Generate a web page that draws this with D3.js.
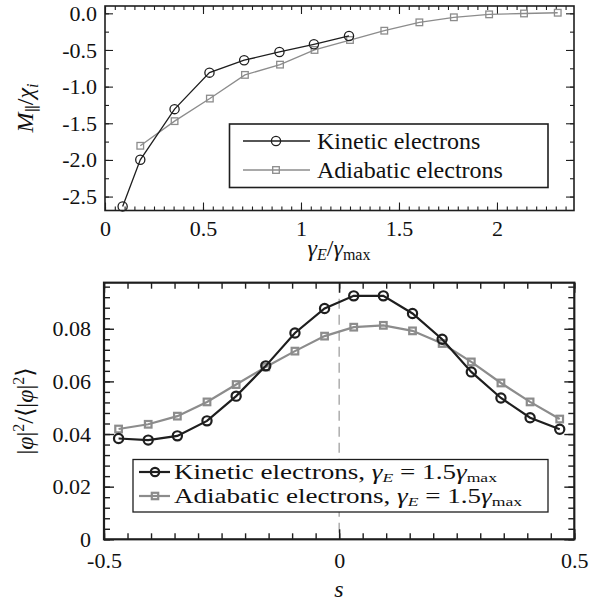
<!DOCTYPE html>
<html>
<head>
<meta charset="utf-8">
<script src="https://cdn.jsdelivr.net/npm/d3@7"></script>
<style>
  body { margin: 0; background: #fff; }
</style>
</head>
<body>
<svg id="chart" width="602" height="608"></svg>
<script>
// top panel: parallel momentum flux vs shear rate
const gammaKin = [0.09, 0.18, 0.355, 0.533, 0.71, 0.89, 1.066, 1.245];
const mKin = [-2.634, -1.998, -1.307, -0.809, -0.640, -0.527, -0.422, -0.309];
const gammaAdi = [0.18, 0.355, 0.535, 0.714, 0.893, 1.069, 1.25, 1.425, 1.604, 1.78, 1.96, 2.138, 2.31];
const mAdi = [-1.807, -1.471, -1.163, -0.840, -0.700, -0.500, -0.364, -0.237, -0.123, -0.054, -0.014, -0.002, 0.008];

const topXTicks = [0, 0.5, 1, 1.5, 2];
const topXLabels = ["0", "0.5", "1", "1.5", "2"];
const topYTicks = [0, -0.5, -1, -1.5, -2, -2.5];
const topYLabels = ["0.0", "-0.5", "-1.0", "-1.5", "-2.0", "-2.5"];

// bottom panel: mode structure along s
const sGrid = [-0.469, -0.406, -0.344, -0.281, -0.219, -0.156, -0.094, -0.031,
               0.031, 0.094, 0.156, 0.219, 0.281, 0.344, 0.406, 0.469];
const phiKin = [0.0383, 0.0377, 0.0393, 0.0450, 0.0544, 0.0659, 0.0784, 0.0877,
                0.0925, 0.0925, 0.0858, 0.0760, 0.0636, 0.0537, 0.0462, 0.0418];
const phiAdi = [0.0419, 0.0437, 0.0468, 0.0522, 0.0588, 0.0655, 0.0715, 0.0772,
                0.0806, 0.0813, 0.0792, 0.0744, 0.0674, 0.0594, 0.0522, 0.0457];

const botXTicks = [-0.5, 0, 0.5];
const botXLabels = ["-0.5", "0", "0.5"];
const botYTicks = [0, 0.02, 0.04, 0.06, 0.08];
const botYLabels = ["0", "0.02", "0.04", "0.06", "0.08"];

const FONT = "'Liberation Serif', 'DejaVu Serif', serif";
const svg = d3.select("#chart").attr("font-family", FONT);
const dark = "#1e1e1e", grey = "#8c8c8c";

function range(a, b, step) {
  const out = [];
  for (let i = 0; a + i * step <= b + 1e-9; i++) out.push(+(a + i * step).toFixed(6));
  return out;
}

// draws a boxed frame with inward ticks on all four sides
function frame(g, x, y, w, h, o) {
  const maj = o.major, min = o.minor;
  const fmt = (vals, labels) => d => labels[vals.findIndex(v => Math.abs(v - d) < 1e-9)];

  g.append("g").attr("transform", `translate(0,${h})`)
    .call(d3.axisBottom(x).tickValues(o.xMinor).tickSize(-min).tickFormat(""));
  g.append("g").attr("transform", `translate(0,${h})`)
    .call(d3.axisBottom(x).tickValues(o.xTicks).tickSize(-maj).tickPadding(o.xPad)
      .tickFormat(fmt(o.xTicks, o.xLabels)));
  g.append("g")
    .call(d3.axisTop(x).tickValues(o.xMinor).tickSize(-min).tickFormat(""));
  g.append("g")
    .call(d3.axisTop(x).tickValues(o.xTicks).tickSize(-maj).tickFormat(""));

  g.append("g")
    .call(d3.axisLeft(y).tickValues(o.yMinor).tickSize(-min).tickFormat(""));
  g.append("g")
    .call(d3.axisLeft(y).tickValues(o.yTicks).tickSize(-maj).tickPadding(o.yPad)
      .tickFormat(fmt(o.yTicks, o.yLabels)));
  g.append("g").attr("transform", `translate(${w},0)`)
    .call(d3.axisRight(y).tickValues(o.yMinor).tickSize(-min).tickFormat(""));
  g.append("g").attr("transform", `translate(${w},0)`)
    .call(d3.axisRight(y).tickValues(o.yTicks).tickSize(-maj).tickFormat(""));

  g.selectAll(".domain").remove();
  g.selectAll("g").attr("font-family", FONT);
  g.selectAll(".tick line").attr("stroke", dark).attr("stroke-width", o.tickWidth);
  g.selectAll(".tick text").attr("font-size", 22).attr("fill", "#111").attr("font-family", FONT);

  g.append("rect").attr("width", w).attr("height", h)
    .attr("fill", "none").attr("stroke", dark).attr("stroke-width", o.frameWidth);
}

function series(g, x, y, xs, ys, color, lw, shape, size) {
  const pts = xs.map((v, i) => [x(v), y(ys[i])]);
  g.append("path").attr("d", d3.line()(pts))
    .attr("fill", "none").attr("stroke", color).attr("stroke-width", lw);
  marker(g, pts, color, lw, shape, size);
}

function marker(g, pts, color, lw, shape, size) {
  if (shape === "circle") {
    g.selectAll(null).data(pts).enter().append("circle")
      .attr("cx", d => d[0]).attr("cy", d => d[1]).attr("r", size)
      .attr("fill", "none").attr("stroke", color).attr("stroke-width", lw);
  } else {
    g.selectAll(null).data(pts).enter().append("rect")
      .attr("x", d => d[0] - size).attr("y", d => d[1] - size)
      .attr("width", 2 * size).attr("height", 2 * size)
      .attr("fill", "none").attr("stroke", color).attr("stroke-width", lw);
  }
}

// ---------- top panel ----------
const T = { left: 105, top: 6, w: 469, h: 204.5 };
const gT = svg.append("g").attr("transform", `translate(${T.left},${T.top})`);
const xT = d3.scaleLinear().domain([0, 2.393]).range([0, T.w]);
const yT = d3.scaleLinear().domain([-2.69, 0.1]).range([T.h, 0]);

frame(gT, xT, yT, T.w, T.h, {
  xTicks: topXTicks, xLabels: topXLabels, xMinor: range(0, 2.39, 0.05),
  yTicks: topYTicks, yLabels: topYLabels, yMinor: range(-2.5, 0, 0.25),
  major: 8, minor: 4, xPad: 10, yPad: 8, tickWidth: 1.1, frameWidth: 1.6
});

series(gT, xT, yT, gammaAdi, mAdi, grey, 1.3, "square", 3.3);
series(gT, xT, yT, gammaKin, mKin, dark, 1.3, "circle", 4.6);

// legend top
const lgT = svg.append("g");
lgT.append("rect").attr("x", 229.5).attr("y", 124).attr("width", 318.5).attr("height", 63.5)
  .attr("fill", "#fff").attr("stroke", dark).attr("stroke-width", 1.6);
[[141, dark, "circle", 4.6, "Kinetic electrons"], [170, grey, "square", 3.3, "Adiabatic electrons"]]
  .forEach(([yy, c, sh, sz, label]) => {
    lgT.append("line").attr("x1", 243).attr("x2", 310).attr("y1", yy).attr("y2", yy)
      .attr("stroke", c).attr("stroke-width", 1.3);
    marker(lgT, [[276, yy]], c, 1.3, sh, sz);
    lgT.append("text").attr("x", 317).attr("y", yy).attr("dy", "0.33em")
      .attr("font-family", FONT).attr("font-size", 24).attr("fill", "#111").text(label);
  });

// axis titles top
svg.append("text").attr("transform", "translate(33,108) rotate(-90)")
  .attr("text-anchor", "middle").attr("font-size", 24).attr("fill", "#111")
  .attr("font-family", FONT)
  .call(t => {
    t.append("tspan").attr("font-style", "italic").text("M");
    t.append("tspan").attr("font-size", 16).attr("dy", 5).text("\u2225");
    t.append("tspan").attr("dy", -5).text("/");
    t.append("tspan").attr("font-style", "italic").text("\u03C7");
    t.append("tspan").attr("font-style", "italic").attr("font-size", 16).attr("dy", 5).text("i");
  });

svg.append("text").attr("x", 339).attr("y", 256).attr("text-anchor", "middle")
  .attr("font-size", 24).attr("fill", "#111").attr("font-family", FONT)
  .call(t => {
    t.append("tspan").attr("font-style", "italic").text("\u03B3");
    t.append("tspan").attr("font-style", "italic").attr("font-size", 16).attr("dy", 4).text("E");
    t.append("tspan").attr("dy", -4).text("/");
    t.append("tspan").attr("font-style", "italic").text("\u03B3");
    t.append("tspan").attr("font-size", 16).attr("dy", 4).text("max");
  });

// ---------- bottom panel ----------
const B = { left: 104, top: 282.7, w: 470.3, h: 256.6 };
const gB = svg.append("g").attr("transform", `translate(${B.left},${B.top})`);
const xB = d3.scaleLinear().domain([-0.5, 0.5]).range([0, B.w]);
const yB = d3.scaleLinear().domain([0, 0.0975]).range([B.h, 0]);

gB.append("line").attr("x1", xB(0)).attr("x2", xB(0)).attr("y1", 0).attr("y2", B.h)
  .attr("stroke", "#999").attr("stroke-width", 1.2).attr("stroke-dasharray", "10,6");

frame(gB, xB, yB, B.w, B.h, {
  xTicks: botXTicks, xLabels: botXLabels, xMinor: range(-0.5, 0.5, 0.05),
  yTicks: botYTicks, yLabels: botYLabels, yMinor: range(0, 0.096, 0.004),
  major: 10, minor: 6, xPad: 13, yPad: 13, tickWidth: 1.4, frameWidth: 2.2
});

series(gB, xB, yB, sGrid, phiAdi, grey, 2.2, "square", 3.3);
series(gB, xB, yB, sGrid, phiKin, dark, 2.2, "circle", 4.6);

// legend bottom
const lgB = svg.append("g");
lgB.append("rect").attr("x", 133).attr("y", 459.5).attr("width", 415).attr("height", 52.5)
  .attr("fill", "#fff").attr("stroke", dark).attr("stroke-width", 1.3);
[[472, dark, "circle", 4.2, "Kinetic electrons, "], [496, grey, "square", 3.2, "Adiabatic electrons, "]]
  .forEach(([yy, c, sh, sz, label], i) => {
    lgB.append("line").attr("x1", 139).attr("x2", 170).attr("y1", yy).attr("y2", yy)
      .attr("stroke", c).attr("stroke-width", 2.2);
    marker(lgB, [[155, yy]], c, 2.2, sh, sz);
    lgB.append("text").attr("x", 174).attr("y", yy).attr("dy", "0.33em")
      .attr("font-family", FONT).attr("font-size", 20).attr("fill", "#111")
      .attr("textLength", i === 0 ? 323 : 348).attr("lengthAdjust", "spacingAndGlyphs")
      .call(t => {
        t.append("tspan").text(label);
        t.append("tspan").attr("font-style", "italic").text("\u03B3");
        t.append("tspan").attr("font-style", "italic").attr("font-size", 13).attr("dy", 3).text("E");
        t.append("tspan").attr("dy", -3).text(" = 1.5");
        t.append("tspan").attr("font-style", "italic").text("\u03B3");
        t.append("tspan").attr("font-size", 13).attr("dy", 3).text("max");
      });
  });

// axis titles bottom
svg.append("text").attr("transform", "translate(33,411) rotate(-90)")
  .attr("text-anchor", "middle").attr("font-size", 24).attr("fill", "#111")
  .attr("font-family", FONT)
  .call(t => {
    t.append("tspan").text("|");
    t.append("tspan").attr("font-style", "italic").text("\u03C6");
    t.append("tspan").text("|");
    t.append("tspan").attr("font-size", 16).attr("dy", -9).text("2");
    t.append("tspan").attr("dy", 9).text("/\u27E8|");
    t.append("tspan").attr("font-style", "italic").text("\u03C6");
    t.append("tspan").text("|");
    t.append("tspan").attr("font-size", 16).attr("dy", -9).text("2");
    t.append("tspan").attr("dy", 9).text("\u27E9");
  });

svg.append("text").attr("x", 339).attr("y", 597).attr("text-anchor", "middle")
  .attr("font-family", FONT)
  .attr("font-size", 24).attr("font-style", "italic").attr("fill", "#111").text("s");
</script>
</body>
</html>
